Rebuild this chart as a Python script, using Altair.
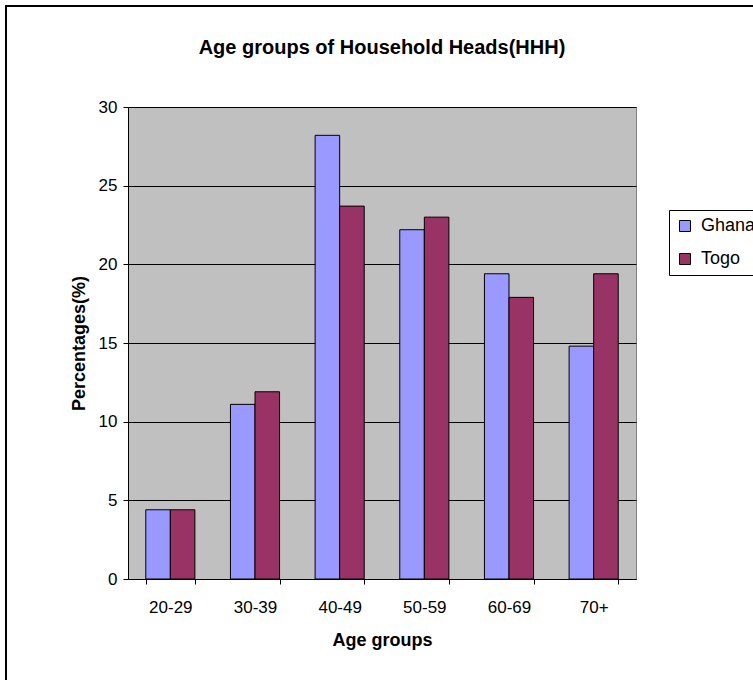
import altair as alt
import pandas as pd

categories = ["20-29", "30-39", "40-49", "50-59", "60-69", "70+"]
series = ["Ghana", "Togo"]
ghana = [4.4, 11.1, 28.2, 22.2, 19.4, 14.8]
togo = [4.4, 11.9, 23.7, 23.0, 17.9, 19.4]
colors = ["#9999FF", "#993366"]
y_ticks = [0, 5, 10, 15, 20, 25, 30]
title_text = ["Age groups of Household Heads(HHH)"]

rows = []
for i, c in enumerate(categories):
    rows.append({"group": c, "country": "Ghana", "value": ghana[i]})
    rows.append({"group": c, "country": "Togo", "value": togo[i]})
df = pd.DataFrame(rows)

W, H = 508, 472
FONT = "Liberation Sans"

bars = alt.Chart(df).mark_bar(stroke="black", strokeWidth=1).encode(
    x=alt.X(
        "group:N",
        sort=categories,
        scale=alt.Scale(paddingInner=0.42, paddingOuter=0.21),
        axis=alt.Axis(
            title="Age groups",
            labelAngle=0,
            tickBand="extent",
            tickSize=5,
            tickColor="black",
            domainColor="black",
            labelFont=FONT,
            labelFontSize=17,
            labelColor="black",
            labelPadding=15,
            titleFont=FONT,
            titleFontSize=18,
            titleFontWeight="bold",
            titleColor="black",
            titlePadding=16,
            grid=False,
        ),
    ),
    xOffset=alt.XOffset(
        "country:N", sort=series, scale=alt.Scale(paddingInner=0, paddingOuter=0)
    ),
    y=alt.Y(
        "value:Q",
        scale=alt.Scale(domain=[0, 30], nice=False),
        axis=alt.Axis(
            title="Percentages(%)",
            values=y_ticks,
            tickSize=5,
            tickColor="black",
            domainColor="black",
            gridColor="black",
            gridWidth=1,
            labelFont=FONT,
            labelFontSize=17,
            labelColor="black",
            labelPadding=6,
            titleFont=FONT,
            titleFontSize=18,
            titleFontWeight="bold",
            titleColor="black",
            titlePadding=10,
        ),
    ),
    color=alt.Color(
        "country:N",
        scale=alt.Scale(domain=series, range=colors),
        legend=alt.Legend(
            title=None,
            orient="none",
            legendX=541,
            legendY=103,
            strokeColor="black",
            padding=7,
            symbolType="square",
            symbolSize=121,
            symbolStrokeColor="black",
            symbolStrokeWidth=1,
            symbolOpacity=1,
            labelFont=FONT,
            labelFontSize=18,
            labelColor="black",
            labelOffset=7,
            rowPadding=15,
            fillColor="white",
        ),
    ),
)

title = alt.Chart(pd.DataFrame({"t": title_text})).mark_text(
    font=FONT, fontSize=20, fontWeight="bold", color="black",
    align="center", baseline="alphabetic",
).encode(x=alt.value(W / 2), y=alt.value(-53), text="t:N")

border = alt.Chart(pd.DataFrame({"a": [0]})).mark_rect(
    fill=None, stroke="black", strokeWidth=2
).encode(
    x=alt.value(-122), x2=alt.value(W + 300),
    y=alt.value(-101), y2=alt.value(H + 300),
)

chart = alt.layer(bars, title, border).properties(
    width=W,
    height=H,
    background="white",
    autosize=alt.AutoSizeParams(type="none"),
    padding={"left": 128, "top": 107, "right": 117, "bottom": 101},
).configure_view(
    fill="#C0C0C0", stroke="#808080", strokeWidth=1
)

chart.save("out.html", embed_options={"renderer": "svg", "actions": False})
